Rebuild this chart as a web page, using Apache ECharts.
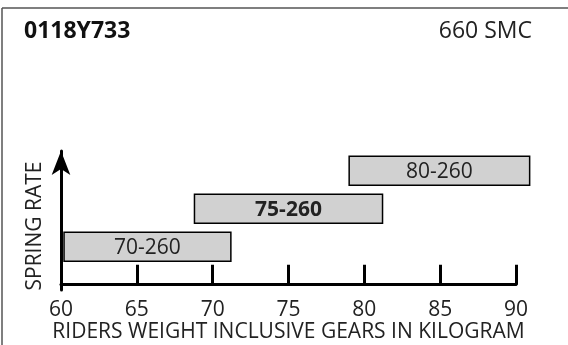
<!DOCTYPE html>
<html><head><meta charset="utf-8">
<script src="https://cdn.jsdelivr.net/npm/echarts@6/dist/echarts.min.js"></script>
<style>html,body{margin:0;padding:0;background:#fff}#c{width:568px;height:345px}</style>
</head><body><div id="c"></div>
<script>
var rangeStart = [60.2, 68.8, 79.0];
var rangeEnd = [71.2, 81.2, 90.9];
var levels = [1, 2, 3];
var barLabels = ['70-260', '75-260', '80-260'];
var boldFlags = [false, true, false];
var xTicks = [60, 65, 70, 75, 80, 85, 90];

var FONT = '"Open Sans", sans-serif';
var FS = 21;
var data = rangeStart.map(function (s, i) { return [s, rangeEnd[i], levels[i], boldFlags[i] ? 1 : 0]; });

var chart = echarts.init(document.getElementById('c'), null, {renderer: 'canvas'});
chart.setOption({
  animation: false,
  backgroundColor: '#fff',
  grid: {left: 61, right: 52, top: 151, bottom: 55},
  xAxis: {
    type: 'value', min: xTicks[0], max: xTicks[xTicks.length - 1], interval: 5,
    name: 'RIDERS WEIGHT INCLUSIVE GEARS IN KILOGRAM',
    nameLocation: 'middle', nameGap: 30,
    nameTextStyle: {fontFamily: FONT, fontSize: FS, color: '#222'},
    axisLine: {lineStyle: {color: '#000', width: 3}},
    axisTick: {inside: true, length: 20, lineStyle: {color: '#000', width: 3}},
    axisLabel: {fontFamily: FONT, fontSize: FS, color: '#222', margin: 10},
    splitLine: {show: false}
  },
  yAxis: {
    type: 'value', min: -0.14, max: 3.52,
    axisLine: {show: true, symbol: ['none', 'arrow'], symbolSize: [14, 24], lineStyle: {color: '#000', width: 3}},
    axisTick: {show: false}, axisLabel: {show: false}, splitLine: {show: false}
  },
  series: [{
    type: 'custom',
    data: data,
    encode: {x: [0, 1], y: 2},
    renderItem: function (params, api) {
      var p0 = api.coord([api.value(0), api.value(2)]);
      var p1 = api.coord([api.value(1), api.value(2)]);
      var h = 29;
      var bold = api.value(3) === 1;
      return {
        type: 'group',
        children: [{
          type: 'rect',
          shape: {x: p0[0], y: p0[1] - h / 2, width: p1[0] - p0[0], height: h},
          style: {fill: '#d1d1d1', stroke: '#000', lineWidth: 1.5}
        }, {
          type: 'text',
          style: {
            x: (p0[0] + p1[0]) / 2, y: p0[1] + 1,
            text: barLabels[params.dataIndex],
            fontFamily: FONT, fontSize: FS, fontWeight: bold ? 'bold' : 'normal',
            fill: '#222', align: 'center', verticalAlign: 'middle'
          }
        }]
      };
    }
  }],
  graphic: [
    {type: 'line', shape: {x1: 2, y1: 8, x2: 568, y2: 8}, style: {stroke: '#555', lineWidth: 1.5}},
    {type: 'line', shape: {x1: 2, y1: 8, x2: 2, y2: 345}, style: {stroke: '#555', lineWidth: 1.5}},
    {type: 'text', left: 24, top: 20, style: {text: '0118Y733', fontFamily: FONT, fontSize: 23, fontWeight: 'bold', fill: '#111'}},
    {type: 'text', right: 36, top: 20, style: {text: '660 SMC', fontFamily: FONT, fontSize: 23, fill: '#222'}},
    {type: 'text', x: 35, y: 226, rotation: Math.PI / 2,
     style: {text: 'SPRING RATE', fontFamily: FONT, fontSize: FS, fill: '#222', align: 'center', verticalAlign: 'middle'}}
  ]
});
</script></body></html>
